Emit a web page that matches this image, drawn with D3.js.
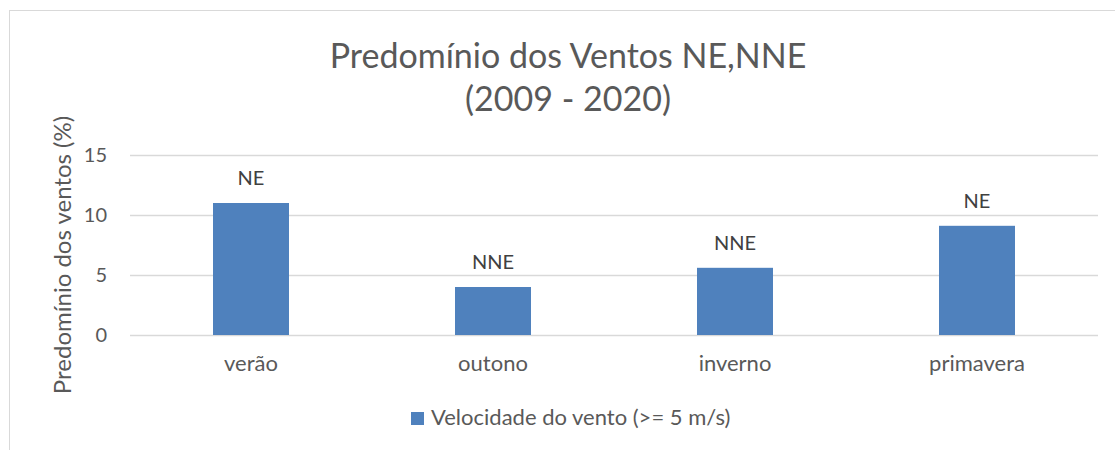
<!DOCTYPE html>
<html>
<head>
<meta charset="utf-8">
<script src="https://cdn.jsdelivr.net/npm/d3@7"></script>
<style>
  html, body { margin: 0; padding: 0; background: #fff; }
  text { font-family: Lato, "Open Sans", sans-serif; fill: #595959; }
</style>
</head>
<body>
<figure style="margin:0"></figure>
<script>
const seasons = ['verão', 'outono', 'inverno', 'primavera'];
const values = [11.0, 4.0, 5.6, 9.1];
const directions = ['NE', 'NNE', 'NNE', 'NE'];
const yTicks = [0, 5, 10, 15];
const seriesName = 'Velocidade do vento (>= 5 m/s)';
const titleLines = ['Predomínio dos Ventos NE,NNE', '(2009 - 2020)'];
const yTitle = 'Predomínio dos ventos (%)';

(() => {
  const totalWidth = 1115;
  const totalHeight = 450;
  const margin = {top: 155, right: 17, bottom: 115, left: 130};
  const graphWidth = totalWidth - margin.right - margin.left;
  const graphHeight = totalHeight - margin.top - margin.bottom;
  const barColor = '#4f81bd';

  const svg = d3.select('figure').append('svg')
    .attr('width', totalWidth)
    .attr('height', totalHeight);

  // chart frame (only left + top visible in the shot)
  svg.append('rect')
    .attr('x', 9.5).attr('y', 10.5)
    .attr('width', totalWidth + 20).attr('height', totalHeight + 20)
    .attr('fill', 'none')
    .attr('stroke', '#d9d9d9');

  const title = svg.append('text')
    .attr('text-anchor', 'middle')
    .style('font-size', '34px');
  titleLines.forEach((t, i) => {
    title.append('tspan')
      .attr('x', 568)
      .attr('y', 68 + i * 43)
      .text(t);
  });

  const g = svg.append('g')
    .attr('transform', `translate(${margin.left}, ${margin.top})`);

  const x = d3.scaleBand()
    .domain(seasons)
    .range([0, graphWidth])
    .paddingInner(0.686)
    .paddingOuter(0.343);

  const y = d3.scaleLinear()
    .domain([0, 15])
    .range([graphHeight, 0]);

  // gridlines
  g.append('g')
    .selectAll('line')
    .data(yTicks)
    .join('line')
      .attr('x1', 0)
      .attr('x2', graphWidth)
      .attr('y1', d => y(d) + 0.5)
      .attr('y2', d => y(d) + 0.5)
      .attr('stroke', '#d9d9d9')
      .attr('stroke-width', 1.5);

  const yAxis = d3.axisLeft(y).tickValues(yTicks).tickSize(0).tickPadding(23);
  const yGroup = g.append('g').call(yAxis);
  yGroup.select('.domain').remove();
  yGroup.selectAll('text')
    .style('font-size', '20px')
    .style('font-family', 'Lato, sans-serif')
    .attr('fill', '#595959');

  const xAxis = d3.axisBottom(x).tickSize(0).tickPadding(20);
  const xGroup = g.append('g')
    .attr('transform', `translate(0, ${graphHeight})`)
    .call(xAxis);
  xGroup.select('.domain').remove();
  xGroup.selectAll('text')
    .style('font-size', '22px')
    .style('font-family', 'Lato, sans-serif')
    .attr('fill', '#595959');

  g.selectAll('rect.bar')
    .data(values)
    .join('rect')
      .attr('class', 'bar')
      .attr('x', (d, i) => x(seasons[i]))
      .attr('y', d => y(d))
      .attr('width', x.bandwidth())
      .attr('height', d => graphHeight - y(d))
      .attr('fill', barColor);

  g.selectAll('text.lbl')
    .data(values)
    .join('text')
      .attr('class', 'lbl')
      .attr('x', (d, i) => x(seasons[i]) + x.bandwidth() / 2)
      .attr('y', d => y(d) - 18)
      .attr('text-anchor', 'middle')
      .style('font-size', '20px')
      .style('fill', '#404040')
      .text((d, i) => directions[i]);

  svg.append('text')
    .attr('transform', `translate(71, 255) rotate(-90)`)
    .attr('text-anchor', 'middle')
    .style('font-size', '24px')
    .text(yTitle);

  const legend = svg.append('g').attr('transform', 'translate(411, 412)');
  legend.append('rect')
    .attr('width', 13).attr('height', 13)
    .attr('fill', barColor);
  legend.append('text')
    .attr('x', 20).attr('y', 13)
    .style('font-size', '22px')
    .text(seriesName);
})();
</script>
</body>
</html>
